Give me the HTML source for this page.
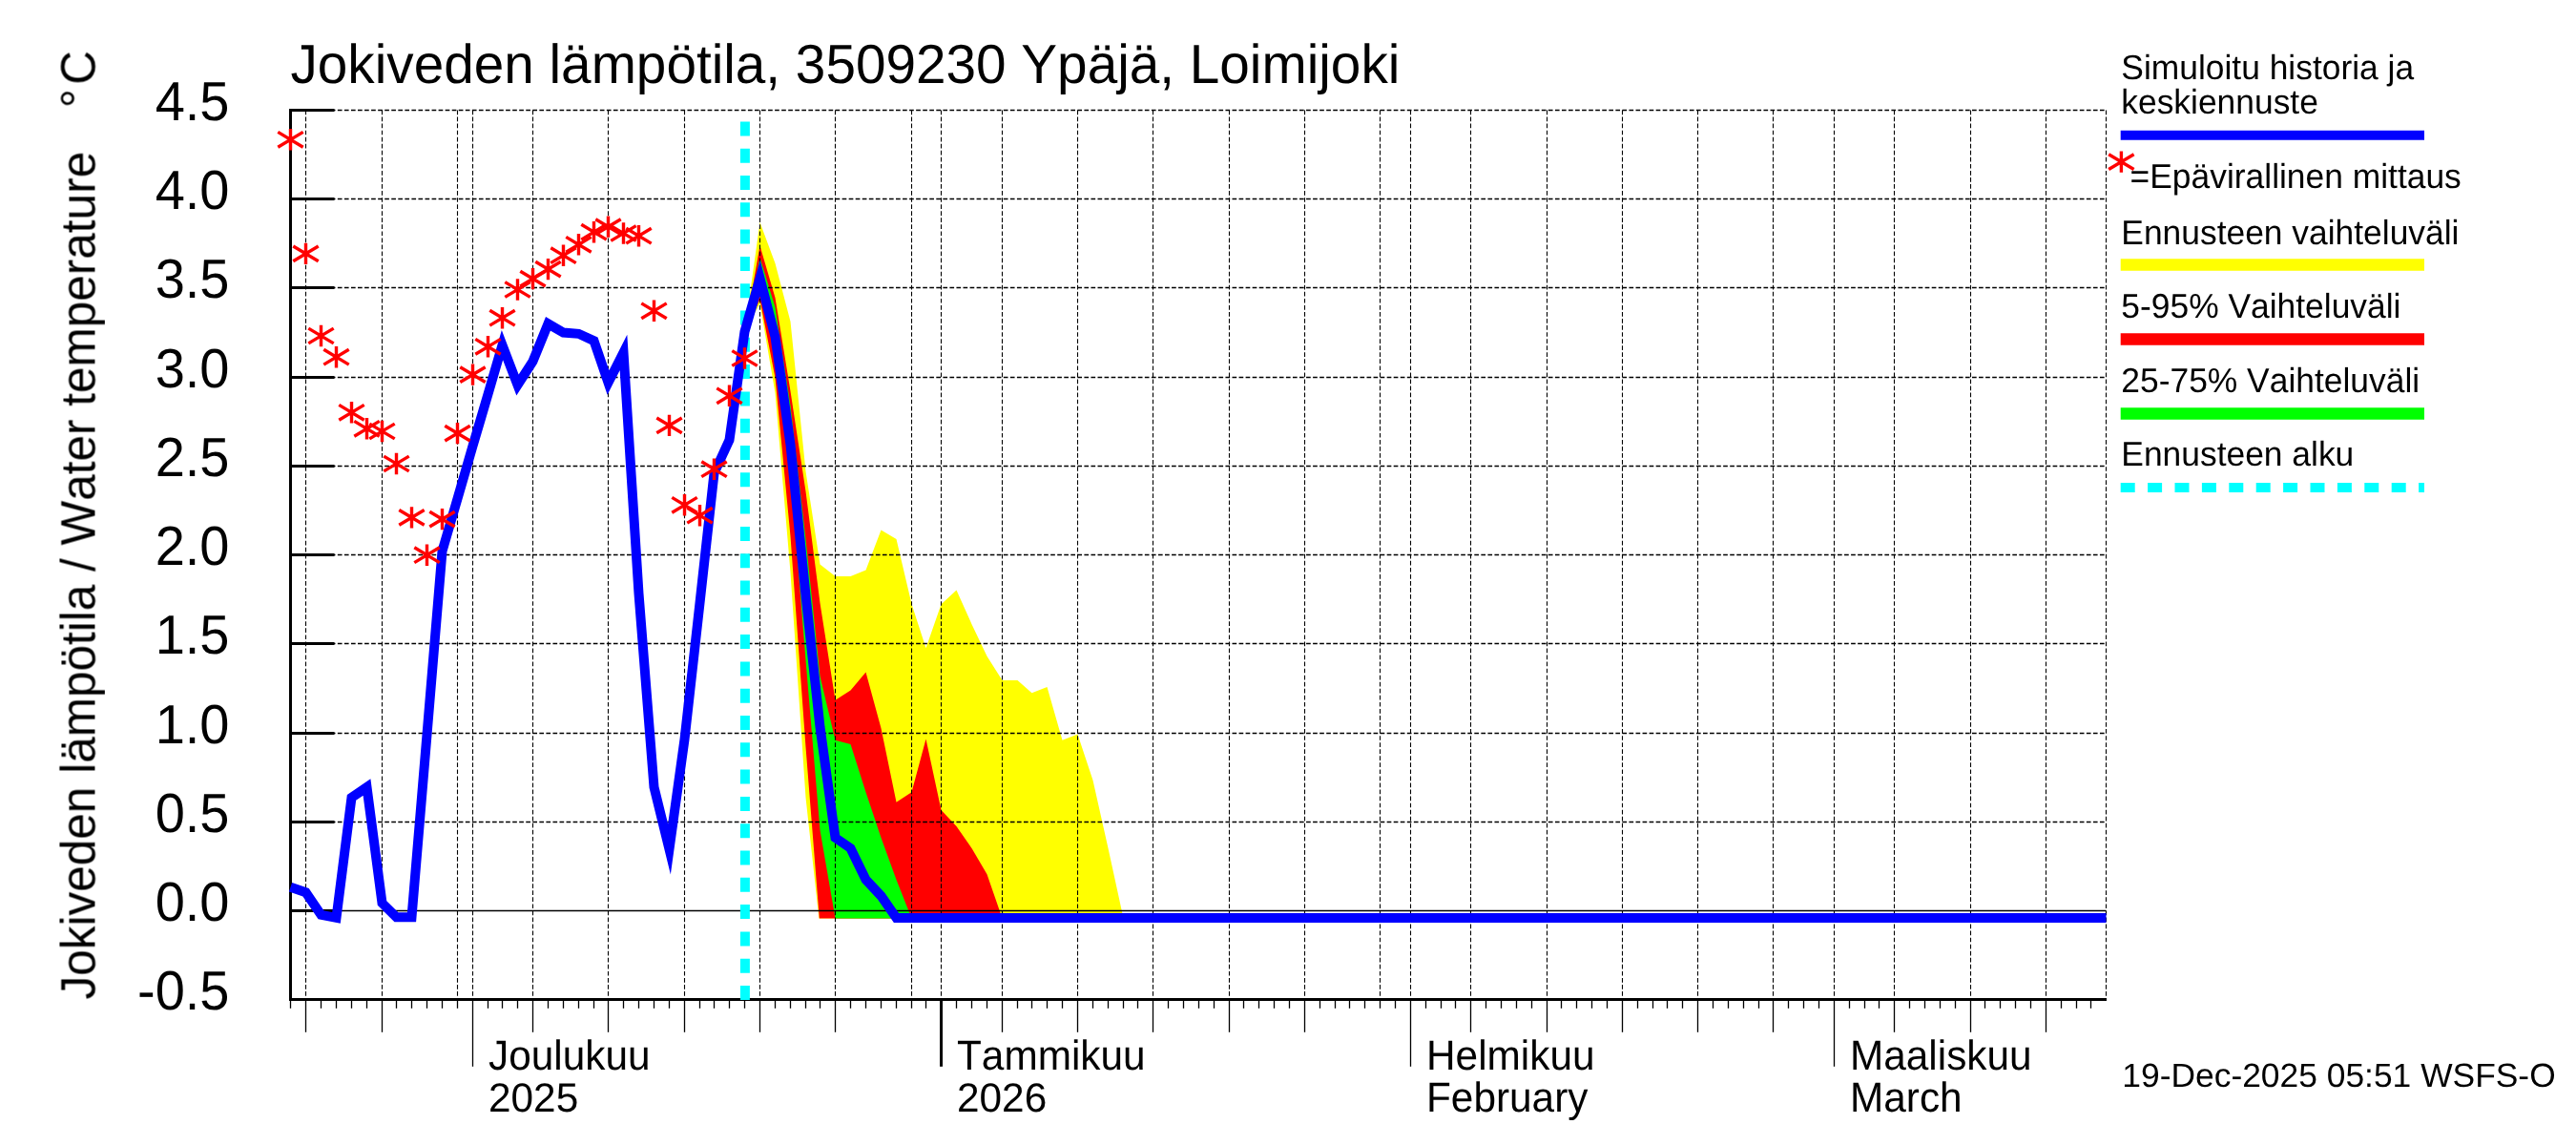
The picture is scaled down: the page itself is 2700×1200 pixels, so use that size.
<!DOCTYPE html>
<html lang="fi"><head><meta charset="utf-8"><title>Jokiveden lämpötila, 3509230 Ypäjä, Loimijoki</title>
<style>html,body{margin:0;padding:0;background:#fff;overflow:hidden}svg{display:block}text{white-space:pre;font-kerning:none;text-rendering:geometricPrecision;fill:#000}</style></head>
<body>
<svg width="2700" height="1200" viewBox="0 0 2700 1200" font-family="'Liberation Sans', sans-serif">
<rect width="2700" height="1200" fill="#fff"/>
<polygon fill="#ffff00" points="780.5,347.5 796.5,233.0 812.5,276.0 828.5,337.0 844.5,494.0 859.5,591.5 875.5,604.0 891.5,604.0 907.5,597.5 923.5,555.5 939.5,565.0 955.5,633.0 970.5,679.3 986.5,633.2 1002.5,618.5 1018.5,654.2 1034.5,687.7 1050.5,712.9 1066.5,712.9 1081.5,726.3 1097.5,720.0 1113.5,775.8 1129.5,769.5 1145.5,817.7 1161.5,889.0 1177.5,962.4 858.4,962.4 844.5,836.0 828.5,600.0 812.5,412.0 796.5,318.0"/>
<polygon fill="#ff0000" points="780.5,347.5 796.5,257.5 812.5,312.0 828.5,410.0 844.5,515.0 859.5,632.0 875.5,733.8 891.5,723.4 907.5,704.5 923.5,763.2 939.5,840.8 955.5,830.3 970.5,774.5 986.5,849.1 1002.5,865.9 1018.5,889.0 1034.5,916.2 1050.5,962.4 858.8,962.4 844.5,783.0 828.5,562.0 812.5,396.0 796.5,314.0"/>
<polygon fill="#00ff00" points="780.5,347.5 796.5,270.0 812.5,322.0 828.5,425.0 844.5,565.0 859.5,708.7 875.5,775.8 891.5,780.0 907.5,830.3 923.5,878.0 939.5,922.0 955.5,962.4 875.5,962.4 859.5,870.0 844.5,692.0 828.5,495.0 812.5,362.0 796.5,300.0"/>
<line x1="304.5" y1="115.5" x2="2207.5" y2="115.5" stroke="#000" stroke-width="1.3" stroke-dasharray="4.7 2.35"/>
<line x1="304.5" y1="208.5" x2="2207.5" y2="208.5" stroke="#000" stroke-width="1.3" stroke-dasharray="4.7 2.35"/>
<line x1="304.5" y1="301.5" x2="2207.5" y2="301.5" stroke="#000" stroke-width="1.3" stroke-dasharray="4.7 2.35"/>
<line x1="304.5" y1="395.5" x2="2207.5" y2="395.5" stroke="#000" stroke-width="1.3" stroke-dasharray="4.7 2.35"/>
<line x1="304.5" y1="488.5" x2="2207.5" y2="488.5" stroke="#000" stroke-width="1.3" stroke-dasharray="4.7 2.35"/>
<line x1="304.5" y1="581.5" x2="2207.5" y2="581.5" stroke="#000" stroke-width="1.3" stroke-dasharray="4.7 2.35"/>
<line x1="304.5" y1="674.5" x2="2207.5" y2="674.5" stroke="#000" stroke-width="1.3" stroke-dasharray="4.7 2.35"/>
<line x1="304.5" y1="768.5" x2="2207.5" y2="768.5" stroke="#000" stroke-width="1.3" stroke-dasharray="4.7 2.35"/>
<line x1="304.5" y1="861.5" x2="2207.5" y2="861.5" stroke="#000" stroke-width="1.3" stroke-dasharray="4.7 2.35"/>
<line x1="304.5" y1="954.5" x2="2207.5" y2="954.5" stroke="#000" stroke-width="1.3"/>
<line x1="320.5" y1="115.5" x2="320.5" y2="1047.5" stroke="#000" stroke-width="1.1" stroke-dasharray="4.7 2.35"/>
<line x1="400.5" y1="115.5" x2="400.5" y2="1047.5" stroke="#000" stroke-width="1.1" stroke-dasharray="4.7 2.35"/>
<line x1="479.5" y1="115.5" x2="479.5" y2="1047.5" stroke="#000" stroke-width="1.1" stroke-dasharray="4.7 2.35"/>
<line x1="495.5" y1="115.5" x2="495.5" y2="1047.5" stroke="#000" stroke-width="1.1" stroke-dasharray="4.7 2.35"/>
<line x1="558.5" y1="115.5" x2="558.5" y2="1047.5" stroke="#000" stroke-width="1.1" stroke-dasharray="4.7 2.35"/>
<line x1="637.5" y1="115.5" x2="637.5" y2="1047.5" stroke="#000" stroke-width="1.1" stroke-dasharray="4.7 2.35"/>
<line x1="717.5" y1="115.5" x2="717.5" y2="1047.5" stroke="#000" stroke-width="1.1" stroke-dasharray="4.7 2.35"/>
<line x1="796.5" y1="115.5" x2="796.5" y2="1047.5" stroke="#000" stroke-width="1.1" stroke-dasharray="4.7 2.35"/>
<line x1="875.5" y1="115.5" x2="875.5" y2="1047.5" stroke="#000" stroke-width="1.1" stroke-dasharray="4.7 2.35"/>
<line x1="955.5" y1="115.5" x2="955.5" y2="1047.5" stroke="#000" stroke-width="1.1" stroke-dasharray="4.7 2.35"/>
<line x1="986.5" y1="115.5" x2="986.5" y2="1047.5" stroke="#000" stroke-width="1.1" stroke-dasharray="4.7 2.35"/>
<line x1="1050.5" y1="115.5" x2="1050.5" y2="1047.5" stroke="#000" stroke-width="1.1" stroke-dasharray="4.7 2.35"/>
<line x1="1129.5" y1="115.5" x2="1129.5" y2="1047.5" stroke="#000" stroke-width="1.1" stroke-dasharray="4.7 2.35"/>
<line x1="1208.5" y1="115.5" x2="1208.5" y2="1047.5" stroke="#000" stroke-width="1.1" stroke-dasharray="4.7 2.35"/>
<line x1="1288.5" y1="115.5" x2="1288.5" y2="1047.5" stroke="#000" stroke-width="1.1" stroke-dasharray="4.7 2.35"/>
<line x1="1367.5" y1="115.5" x2="1367.5" y2="1047.5" stroke="#000" stroke-width="1.1" stroke-dasharray="4.7 2.35"/>
<line x1="1446.5" y1="115.5" x2="1446.5" y2="1047.5" stroke="#000" stroke-width="1.1" stroke-dasharray="4.7 2.35"/>
<line x1="1478.5" y1="115.5" x2="1478.5" y2="1047.5" stroke="#000" stroke-width="1.1" stroke-dasharray="4.7 2.35"/>
<line x1="1541.5" y1="115.5" x2="1541.5" y2="1047.5" stroke="#000" stroke-width="1.1" stroke-dasharray="4.7 2.35"/>
<line x1="1621.5" y1="115.5" x2="1621.5" y2="1047.5" stroke="#000" stroke-width="1.1" stroke-dasharray="4.7 2.35"/>
<line x1="1700.5" y1="115.5" x2="1700.5" y2="1047.5" stroke="#000" stroke-width="1.1" stroke-dasharray="4.7 2.35"/>
<line x1="1779.5" y1="115.5" x2="1779.5" y2="1047.5" stroke="#000" stroke-width="1.1" stroke-dasharray="4.7 2.35"/>
<line x1="1858.5" y1="115.5" x2="1858.5" y2="1047.5" stroke="#000" stroke-width="1.1" stroke-dasharray="4.7 2.35"/>
<line x1="1922.5" y1="115.5" x2="1922.5" y2="1047.5" stroke="#000" stroke-width="1.1" stroke-dasharray="4.7 2.35"/>
<line x1="1985.5" y1="115.5" x2="1985.5" y2="1047.5" stroke="#000" stroke-width="1.1" stroke-dasharray="4.7 2.35"/>
<line x1="2065.5" y1="115.5" x2="2065.5" y2="1047.5" stroke="#000" stroke-width="1.1" stroke-dasharray="4.7 2.35"/>
<line x1="2144.5" y1="115.5" x2="2144.5" y2="1047.5" stroke="#000" stroke-width="1.1" stroke-dasharray="4.7 2.35"/>
<line x1="2207.5" y1="115.5" x2="2207.5" y2="1047.5" stroke="#000" stroke-width="1.1" stroke-dasharray="4.7 2.35"/>
<line x1="304.5" y1="114.0" x2="304.5" y2="1049.0" stroke="#000" stroke-width="3"/>
<line x1="303.0" y1="1047.5" x2="2208.0" y2="1047.5" stroke="#000" stroke-width="3"/>
<line x1="304.5" y1="115.5" x2="350.5" y2="115.5" stroke="#000" stroke-width="3"/>
<line x1="304.5" y1="208.5" x2="350.5" y2="208.5" stroke="#000" stroke-width="3"/>
<line x1="304.5" y1="301.5" x2="350.5" y2="301.5" stroke="#000" stroke-width="3"/>
<line x1="304.5" y1="395.5" x2="350.5" y2="395.5" stroke="#000" stroke-width="3"/>
<line x1="304.5" y1="488.5" x2="350.5" y2="488.5" stroke="#000" stroke-width="3"/>
<line x1="304.5" y1="581.5" x2="350.5" y2="581.5" stroke="#000" stroke-width="3"/>
<line x1="304.5" y1="674.5" x2="350.5" y2="674.5" stroke="#000" stroke-width="3"/>
<line x1="304.5" y1="768.5" x2="350.5" y2="768.5" stroke="#000" stroke-width="3"/>
<line x1="304.5" y1="861.5" x2="350.5" y2="861.5" stroke="#000" stroke-width="3"/>
<line x1="304.5" y1="954.5" x2="350.5" y2="954.5" stroke="#000" stroke-width="3"/>
<line x1="304.5" y1="1047.5" x2="304.5" y2="1056.8" stroke="#000" stroke-width="1.3"/>
<line x1="320.5" y1="1047.5" x2="320.5" y2="1081.8" stroke="#000" stroke-width="1.3"/>
<line x1="336.5" y1="1047.5" x2="336.5" y2="1056.8" stroke="#000" stroke-width="1.3"/>
<line x1="352.5" y1="1047.5" x2="352.5" y2="1056.8" stroke="#000" stroke-width="1.3"/>
<line x1="368.5" y1="1047.5" x2="368.5" y2="1056.8" stroke="#000" stroke-width="1.3"/>
<line x1="384.5" y1="1047.5" x2="384.5" y2="1056.8" stroke="#000" stroke-width="1.3"/>
<line x1="400.5" y1="1047.5" x2="400.5" y2="1081.8" stroke="#000" stroke-width="1.3"/>
<line x1="415.5" y1="1047.5" x2="415.5" y2="1056.8" stroke="#000" stroke-width="1.3"/>
<line x1="431.5" y1="1047.5" x2="431.5" y2="1056.8" stroke="#000" stroke-width="1.3"/>
<line x1="447.5" y1="1047.5" x2="447.5" y2="1056.8" stroke="#000" stroke-width="1.3"/>
<line x1="463.5" y1="1047.5" x2="463.5" y2="1056.8" stroke="#000" stroke-width="1.3"/>
<line x1="479.5" y1="1047.5" x2="479.5" y2="1056.8" stroke="#000" stroke-width="1.3"/>
<line x1="495.5" y1="1047.5" x2="495.5" y2="1117.8" stroke="#000" stroke-width="1.3"/>
<line x1="511.5" y1="1047.5" x2="511.5" y2="1056.8" stroke="#000" stroke-width="1.3"/>
<line x1="526.5" y1="1047.5" x2="526.5" y2="1056.8" stroke="#000" stroke-width="1.3"/>
<line x1="542.5" y1="1047.5" x2="542.5" y2="1056.8" stroke="#000" stroke-width="1.3"/>
<line x1="558.5" y1="1047.5" x2="558.5" y2="1081.8" stroke="#000" stroke-width="1.3"/>
<line x1="574.5" y1="1047.5" x2="574.5" y2="1056.8" stroke="#000" stroke-width="1.3"/>
<line x1="590.5" y1="1047.5" x2="590.5" y2="1056.8" stroke="#000" stroke-width="1.3"/>
<line x1="606.5" y1="1047.5" x2="606.5" y2="1056.8" stroke="#000" stroke-width="1.3"/>
<line x1="622.5" y1="1047.5" x2="622.5" y2="1056.8" stroke="#000" stroke-width="1.3"/>
<line x1="637.5" y1="1047.5" x2="637.5" y2="1081.8" stroke="#000" stroke-width="1.3"/>
<line x1="653.5" y1="1047.5" x2="653.5" y2="1056.8" stroke="#000" stroke-width="1.3"/>
<line x1="669.5" y1="1047.5" x2="669.5" y2="1056.8" stroke="#000" stroke-width="1.3"/>
<line x1="685.5" y1="1047.5" x2="685.5" y2="1056.8" stroke="#000" stroke-width="1.3"/>
<line x1="701.5" y1="1047.5" x2="701.5" y2="1056.8" stroke="#000" stroke-width="1.3"/>
<line x1="717.5" y1="1047.5" x2="717.5" y2="1081.8" stroke="#000" stroke-width="1.3"/>
<line x1="733.5" y1="1047.5" x2="733.5" y2="1056.8" stroke="#000" stroke-width="1.3"/>
<line x1="748.5" y1="1047.5" x2="748.5" y2="1056.8" stroke="#000" stroke-width="1.3"/>
<line x1="764.5" y1="1047.5" x2="764.5" y2="1056.8" stroke="#000" stroke-width="1.3"/>
<line x1="780.5" y1="1047.5" x2="780.5" y2="1056.8" stroke="#000" stroke-width="1.3"/>
<line x1="796.5" y1="1047.5" x2="796.5" y2="1081.8" stroke="#000" stroke-width="1.3"/>
<line x1="812.5" y1="1047.5" x2="812.5" y2="1056.8" stroke="#000" stroke-width="1.3"/>
<line x1="828.5" y1="1047.5" x2="828.5" y2="1056.8" stroke="#000" stroke-width="1.3"/>
<line x1="844.5" y1="1047.5" x2="844.5" y2="1056.8" stroke="#000" stroke-width="1.3"/>
<line x1="859.5" y1="1047.5" x2="859.5" y2="1056.8" stroke="#000" stroke-width="1.3"/>
<line x1="875.5" y1="1047.5" x2="875.5" y2="1081.8" stroke="#000" stroke-width="1.3"/>
<line x1="891.5" y1="1047.5" x2="891.5" y2="1056.8" stroke="#000" stroke-width="1.3"/>
<line x1="907.5" y1="1047.5" x2="907.5" y2="1056.8" stroke="#000" stroke-width="1.3"/>
<line x1="923.5" y1="1047.5" x2="923.5" y2="1056.8" stroke="#000" stroke-width="1.3"/>
<line x1="939.5" y1="1047.5" x2="939.5" y2="1056.8" stroke="#000" stroke-width="1.3"/>
<line x1="955.5" y1="1047.5" x2="955.5" y2="1056.8" stroke="#000" stroke-width="1.3"/>
<line x1="970.5" y1="1047.5" x2="970.5" y2="1056.8" stroke="#000" stroke-width="1.3"/>
<line x1="986.5" y1="1047.5" x2="986.5" y2="1117.8" stroke="#000" stroke-width="3"/>
<line x1="1002.5" y1="1047.5" x2="1002.5" y2="1056.8" stroke="#000" stroke-width="1.3"/>
<line x1="1018.5" y1="1047.5" x2="1018.5" y2="1056.8" stroke="#000" stroke-width="1.3"/>
<line x1="1034.5" y1="1047.5" x2="1034.5" y2="1056.8" stroke="#000" stroke-width="1.3"/>
<line x1="1050.5" y1="1047.5" x2="1050.5" y2="1081.8" stroke="#000" stroke-width="1.3"/>
<line x1="1066.5" y1="1047.5" x2="1066.5" y2="1056.8" stroke="#000" stroke-width="1.3"/>
<line x1="1081.5" y1="1047.5" x2="1081.5" y2="1056.8" stroke="#000" stroke-width="1.3"/>
<line x1="1097.5" y1="1047.5" x2="1097.5" y2="1056.8" stroke="#000" stroke-width="1.3"/>
<line x1="1113.5" y1="1047.5" x2="1113.5" y2="1056.8" stroke="#000" stroke-width="1.3"/>
<line x1="1129.5" y1="1047.5" x2="1129.5" y2="1081.8" stroke="#000" stroke-width="1.3"/>
<line x1="1145.5" y1="1047.5" x2="1145.5" y2="1056.8" stroke="#000" stroke-width="1.3"/>
<line x1="1161.5" y1="1047.5" x2="1161.5" y2="1056.8" stroke="#000" stroke-width="1.3"/>
<line x1="1177.5" y1="1047.5" x2="1177.5" y2="1056.8" stroke="#000" stroke-width="1.3"/>
<line x1="1192.5" y1="1047.5" x2="1192.5" y2="1056.8" stroke="#000" stroke-width="1.3"/>
<line x1="1208.5" y1="1047.5" x2="1208.5" y2="1081.8" stroke="#000" stroke-width="1.3"/>
<line x1="1224.5" y1="1047.5" x2="1224.5" y2="1056.8" stroke="#000" stroke-width="1.3"/>
<line x1="1240.5" y1="1047.5" x2="1240.5" y2="1056.8" stroke="#000" stroke-width="1.3"/>
<line x1="1256.5" y1="1047.5" x2="1256.5" y2="1056.8" stroke="#000" stroke-width="1.3"/>
<line x1="1272.5" y1="1047.5" x2="1272.5" y2="1056.8" stroke="#000" stroke-width="1.3"/>
<line x1="1288.5" y1="1047.5" x2="1288.5" y2="1081.8" stroke="#000" stroke-width="1.3"/>
<line x1="1303.5" y1="1047.5" x2="1303.5" y2="1056.8" stroke="#000" stroke-width="1.3"/>
<line x1="1319.5" y1="1047.5" x2="1319.5" y2="1056.8" stroke="#000" stroke-width="1.3"/>
<line x1="1335.5" y1="1047.5" x2="1335.5" y2="1056.8" stroke="#000" stroke-width="1.3"/>
<line x1="1351.5" y1="1047.5" x2="1351.5" y2="1056.8" stroke="#000" stroke-width="1.3"/>
<line x1="1367.5" y1="1047.5" x2="1367.5" y2="1081.8" stroke="#000" stroke-width="1.3"/>
<line x1="1383.5" y1="1047.5" x2="1383.5" y2="1056.8" stroke="#000" stroke-width="1.3"/>
<line x1="1399.5" y1="1047.5" x2="1399.5" y2="1056.8" stroke="#000" stroke-width="1.3"/>
<line x1="1414.5" y1="1047.5" x2="1414.5" y2="1056.8" stroke="#000" stroke-width="1.3"/>
<line x1="1430.5" y1="1047.5" x2="1430.5" y2="1056.8" stroke="#000" stroke-width="1.3"/>
<line x1="1446.5" y1="1047.5" x2="1446.5" y2="1056.8" stroke="#000" stroke-width="1.3"/>
<line x1="1462.5" y1="1047.5" x2="1462.5" y2="1056.8" stroke="#000" stroke-width="1.3"/>
<line x1="1478.5" y1="1047.5" x2="1478.5" y2="1117.8" stroke="#000" stroke-width="1.3"/>
<line x1="1494.5" y1="1047.5" x2="1494.5" y2="1056.8" stroke="#000" stroke-width="1.3"/>
<line x1="1510.5" y1="1047.5" x2="1510.5" y2="1056.8" stroke="#000" stroke-width="1.3"/>
<line x1="1525.5" y1="1047.5" x2="1525.5" y2="1056.8" stroke="#000" stroke-width="1.3"/>
<line x1="1541.5" y1="1047.5" x2="1541.5" y2="1081.8" stroke="#000" stroke-width="1.3"/>
<line x1="1557.5" y1="1047.5" x2="1557.5" y2="1056.8" stroke="#000" stroke-width="1.3"/>
<line x1="1573.5" y1="1047.5" x2="1573.5" y2="1056.8" stroke="#000" stroke-width="1.3"/>
<line x1="1589.5" y1="1047.5" x2="1589.5" y2="1056.8" stroke="#000" stroke-width="1.3"/>
<line x1="1605.5" y1="1047.5" x2="1605.5" y2="1056.8" stroke="#000" stroke-width="1.3"/>
<line x1="1621.5" y1="1047.5" x2="1621.5" y2="1081.8" stroke="#000" stroke-width="1.3"/>
<line x1="1636.5" y1="1047.5" x2="1636.5" y2="1056.8" stroke="#000" stroke-width="1.3"/>
<line x1="1652.5" y1="1047.5" x2="1652.5" y2="1056.8" stroke="#000" stroke-width="1.3"/>
<line x1="1668.5" y1="1047.5" x2="1668.5" y2="1056.8" stroke="#000" stroke-width="1.3"/>
<line x1="1684.5" y1="1047.5" x2="1684.5" y2="1056.8" stroke="#000" stroke-width="1.3"/>
<line x1="1700.5" y1="1047.5" x2="1700.5" y2="1081.8" stroke="#000" stroke-width="1.3"/>
<line x1="1716.5" y1="1047.5" x2="1716.5" y2="1056.8" stroke="#000" stroke-width="1.3"/>
<line x1="1732.5" y1="1047.5" x2="1732.5" y2="1056.8" stroke="#000" stroke-width="1.3"/>
<line x1="1747.5" y1="1047.5" x2="1747.5" y2="1056.8" stroke="#000" stroke-width="1.3"/>
<line x1="1763.5" y1="1047.5" x2="1763.5" y2="1056.8" stroke="#000" stroke-width="1.3"/>
<line x1="1779.5" y1="1047.5" x2="1779.5" y2="1081.8" stroke="#000" stroke-width="1.3"/>
<line x1="1795.5" y1="1047.5" x2="1795.5" y2="1056.8" stroke="#000" stroke-width="1.3"/>
<line x1="1811.5" y1="1047.5" x2="1811.5" y2="1056.8" stroke="#000" stroke-width="1.3"/>
<line x1="1827.5" y1="1047.5" x2="1827.5" y2="1056.8" stroke="#000" stroke-width="1.3"/>
<line x1="1843.5" y1="1047.5" x2="1843.5" y2="1056.8" stroke="#000" stroke-width="1.3"/>
<line x1="1858.5" y1="1047.5" x2="1858.5" y2="1081.8" stroke="#000" stroke-width="1.3"/>
<line x1="1874.5" y1="1047.5" x2="1874.5" y2="1056.8" stroke="#000" stroke-width="1.3"/>
<line x1="1890.5" y1="1047.5" x2="1890.5" y2="1056.8" stroke="#000" stroke-width="1.3"/>
<line x1="1906.5" y1="1047.5" x2="1906.5" y2="1056.8" stroke="#000" stroke-width="1.3"/>
<line x1="1922.5" y1="1047.5" x2="1922.5" y2="1117.8" stroke="#000" stroke-width="1.3"/>
<line x1="1938.5" y1="1047.5" x2="1938.5" y2="1056.8" stroke="#000" stroke-width="1.3"/>
<line x1="1954.5" y1="1047.5" x2="1954.5" y2="1056.8" stroke="#000" stroke-width="1.3"/>
<line x1="1969.5" y1="1047.5" x2="1969.5" y2="1056.8" stroke="#000" stroke-width="1.3"/>
<line x1="1985.5" y1="1047.5" x2="1985.5" y2="1081.8" stroke="#000" stroke-width="1.3"/>
<line x1="2001.5" y1="1047.5" x2="2001.5" y2="1056.8" stroke="#000" stroke-width="1.3"/>
<line x1="2017.5" y1="1047.5" x2="2017.5" y2="1056.8" stroke="#000" stroke-width="1.3"/>
<line x1="2033.5" y1="1047.5" x2="2033.5" y2="1056.8" stroke="#000" stroke-width="1.3"/>
<line x1="2049.5" y1="1047.5" x2="2049.5" y2="1056.8" stroke="#000" stroke-width="1.3"/>
<line x1="2065.5" y1="1047.5" x2="2065.5" y2="1081.8" stroke="#000" stroke-width="1.3"/>
<line x1="2080.5" y1="1047.5" x2="2080.5" y2="1056.8" stroke="#000" stroke-width="1.3"/>
<line x1="2096.5" y1="1047.5" x2="2096.5" y2="1056.8" stroke="#000" stroke-width="1.3"/>
<line x1="2112.5" y1="1047.5" x2="2112.5" y2="1056.8" stroke="#000" stroke-width="1.3"/>
<line x1="2128.5" y1="1047.5" x2="2128.5" y2="1056.8" stroke="#000" stroke-width="1.3"/>
<line x1="2144.5" y1="1047.5" x2="2144.5" y2="1081.8" stroke="#000" stroke-width="1.3"/>
<line x1="2160.5" y1="1047.5" x2="2160.5" y2="1056.8" stroke="#000" stroke-width="1.3"/>
<line x1="2176.5" y1="1047.5" x2="2176.5" y2="1056.8" stroke="#000" stroke-width="1.3"/>
<line x1="2191.5" y1="1047.5" x2="2191.5" y2="1056.8" stroke="#000" stroke-width="1.3"/>
<line x1="780.9" y1="1048" x2="780.9" y2="115.5" stroke="#00ffff" stroke-width="10" stroke-dasharray="15 13.3"/>
<polyline fill="none" stroke="#0000ff" stroke-width="10" stroke-linejoin="miter" stroke-miterlimit="10" points="304.5,929.7 320.5,935.2 336.5,958.8 352.5,961.8 368.5,835.9 384.5,825.0 400.5,946.5 415.5,961.2 431.5,961.2 447.5,770.0 463.5,577.7 479.5,522.7 495.5,467.4 511.5,413.2 526.5,361.6 542.5,403.5 558.5,378.6 574.5,339.3 590.5,348.5 606.5,349.8 622.5,357.1 637.5,400.9 653.5,369.4 669.5,622.0 685.5,825.0 701.5,890.0 717.5,775.0 733.5,632.0 748.5,496.0 764.5,461.0 780.5,347.5 796.5,291.6 812.5,353.0 828.5,466.0 844.5,624.0 859.5,762.0 875.5,878.0 891.5,889.0 907.5,922.0 923.5,939.0 939.5,962.0 2207.5,962.0"/>
<path d="M304.5,135.1V157.5M291.3,138.4L317.7,154.2M291.3,154.2L317.7,138.4" stroke="#ff0000" stroke-width="3.4" fill="none"/>
<path d="M320.5,254.7V277.1M307.3,258.0L333.7,273.8M307.3,273.8L333.7,258.0" stroke="#ff0000" stroke-width="3.4" fill="none"/>
<path d="M336.5,340.8V363.2M323.3,344.1L349.7,359.9M323.3,359.9L349.7,344.1" stroke="#ff0000" stroke-width="3.4" fill="none"/>
<path d="M352.5,363.0V385.4M339.3,366.3L365.7,382.1M339.3,382.1L365.7,366.3" stroke="#ff0000" stroke-width="3.4" fill="none"/>
<path d="M368.5,421.1V443.5M355.3,424.4L381.7,440.2M355.3,440.2L381.7,424.4" stroke="#ff0000" stroke-width="3.4" fill="none"/>
<path d="M384.5,438.1V460.5M371.3,441.4L397.7,457.2M371.3,457.2L397.7,441.4" stroke="#ff0000" stroke-width="3.4" fill="none"/>
<path d="M400.5,440.8V463.2M387.3,444.1L413.7,459.9M387.3,459.9L413.7,444.1" stroke="#ff0000" stroke-width="3.4" fill="none"/>
<path d="M415.5,474.8V497.2M402.3,478.1L428.7,493.9M402.3,493.9L428.7,478.1" stroke="#ff0000" stroke-width="3.4" fill="none"/>
<path d="M431.5,531.2V553.6M418.3,534.5L444.7,550.3M418.3,550.3L444.7,534.5" stroke="#ff0000" stroke-width="3.4" fill="none"/>
<path d="M447.5,570.5V592.9M434.3,573.8L460.7,589.6M434.3,589.6L460.7,573.8" stroke="#ff0000" stroke-width="3.4" fill="none"/>
<path d="M463.5,532.9V555.3M450.3,536.2L476.7,552.0M450.3,552.0L476.7,536.2" stroke="#ff0000" stroke-width="3.4" fill="none"/>
<path d="M479.5,442.9V465.3M466.3,446.2L492.7,462.0M466.3,462.0L492.7,446.2" stroke="#ff0000" stroke-width="3.4" fill="none"/>
<path d="M495.5,381.4V403.8M482.3,384.7L508.7,400.5M482.3,400.5L508.7,384.7" stroke="#ff0000" stroke-width="3.4" fill="none"/>
<path d="M511.5,352.1V374.5M498.3,355.4L524.7,371.2M498.3,371.2L524.7,355.4" stroke="#ff0000" stroke-width="3.4" fill="none"/>
<path d="M526.5,322.0V344.4M513.3,325.3L539.7,341.1M513.3,341.1L539.7,325.3" stroke="#ff0000" stroke-width="3.4" fill="none"/>
<path d="M542.5,292.3V314.7M529.3,295.6L555.7,311.4M529.3,311.4L555.7,295.6" stroke="#ff0000" stroke-width="3.4" fill="none"/>
<path d="M558.5,280.9V303.3M545.3,284.2L571.7,300.0M545.3,300.0L571.7,284.2" stroke="#ff0000" stroke-width="3.4" fill="none"/>
<path d="M574.5,270.9V293.3M561.3,274.2L587.7,290.0M561.3,290.0L587.7,274.2" stroke="#ff0000" stroke-width="3.4" fill="none"/>
<path d="M590.5,256.5V278.9M577.3,259.8L603.7,275.6M577.3,275.6L603.7,259.8" stroke="#ff0000" stroke-width="3.4" fill="none"/>
<path d="M606.5,245.1V267.5M593.3,248.4L619.7,264.2M593.3,264.2L619.7,248.4" stroke="#ff0000" stroke-width="3.4" fill="none"/>
<path d="M622.5,232.0V254.4M609.3,235.3L635.7,251.1M609.3,251.1L635.7,235.3" stroke="#ff0000" stroke-width="3.4" fill="none"/>
<path d="M637.5,226.4V248.8M624.3,229.7L650.7,245.5M624.3,245.5L650.7,229.7" stroke="#ff0000" stroke-width="3.4" fill="none"/>
<path d="M653.5,233.3V255.7M640.3,236.6L666.7,252.4M640.3,252.4L666.7,236.6" stroke="#ff0000" stroke-width="3.4" fill="none"/>
<path d="M669.5,236.0V258.4M656.3,239.3L682.7,255.1M656.3,255.1L682.7,239.3" stroke="#ff0000" stroke-width="3.4" fill="none"/>
<path d="M685.5,314.6V337.0M672.3,317.9L698.7,333.7M672.3,333.7L698.7,317.9" stroke="#ff0000" stroke-width="3.4" fill="none"/>
<path d="M701.5,434.7V457.1M688.3,438.0L714.7,453.8M688.3,453.8L714.7,438.0" stroke="#ff0000" stroke-width="3.4" fill="none"/>
<path d="M717.5,518.1V540.5M704.3,521.4L730.7,537.2M704.3,537.2L730.7,521.4" stroke="#ff0000" stroke-width="3.4" fill="none"/>
<path d="M733.5,529.0V551.4M720.3,532.3L746.7,548.1M720.3,548.1L746.7,532.3" stroke="#ff0000" stroke-width="3.4" fill="none"/>
<path d="M748.5,480.5V502.9M735.3,483.8L761.7,499.6M735.3,499.6L761.7,483.8" stroke="#ff0000" stroke-width="3.4" fill="none"/>
<path d="M764.5,403.6V426.0M751.3,406.9L777.7,422.7M751.3,422.7L777.7,406.9" stroke="#ff0000" stroke-width="3.4" fill="none"/>
<path d="M780.5,364.3V386.7M767.3,367.6L793.7,383.4M767.3,383.4L793.7,367.6" stroke="#ff0000" stroke-width="3.4" fill="none"/>
<g style="will-change:opacity" opacity="0.999">
<text transform="translate(304.5 87.0) scale(1 1.02)" font-size="56.7" xml:space="preserve">Jokiveden lämpötila, 3509230 Ypäjä, Loimijoki</text>
<text transform="translate(99.0 1047.5) rotate(-90) scale(1 1.035)" font-size="49.5" xml:space="preserve">Jokiveden lämpötila / Water temperature   <tspan dx="4.6">°</tspan><tspan dx="4.4">C</tspan></text>
<text transform="translate(240.5 126.3) scale(1 1.035)" font-size="56" text-anchor="end" xml:space="preserve">4.5</text>
<text transform="translate(240.5 219.3) scale(1 1.035)" font-size="56" text-anchor="end" xml:space="preserve">4.0</text>
<text transform="translate(240.5 312.3) scale(1 1.035)" font-size="56" text-anchor="end" xml:space="preserve">3.5</text>
<text transform="translate(240.5 406.3) scale(1 1.035)" font-size="56" text-anchor="end" xml:space="preserve">3.0</text>
<text transform="translate(240.5 499.3) scale(1 1.035)" font-size="56" text-anchor="end" xml:space="preserve">2.5</text>
<text transform="translate(240.5 592.3) scale(1 1.035)" font-size="56" text-anchor="end" xml:space="preserve">2.0</text>
<text transform="translate(240.5 685.3) scale(1 1.035)" font-size="56" text-anchor="end" xml:space="preserve">1.5</text>
<text transform="translate(240.5 779.3) scale(1 1.035)" font-size="56" text-anchor="end" xml:space="preserve">1.0</text>
<text transform="translate(240.5 872.3) scale(1 1.035)" font-size="56" text-anchor="end" xml:space="preserve">0.5</text>
<text transform="translate(240.5 965.3) scale(1 1.035)" font-size="56" text-anchor="end" xml:space="preserve">0.0</text>
<text transform="translate(240.5 1058.3) scale(1 1.035)" font-size="56" text-anchor="end" xml:space="preserve">-0.5</text>
<text transform="translate(512.0 1121.2) scale(1 1.035)" font-size="42.35" xml:space="preserve">Joulukuu</text>
<text transform="translate(512.0 1164.9) scale(1 1.01)" font-size="42.35" xml:space="preserve">2025</text>
<text transform="translate(1003.0 1121.2) scale(1 1.035)" font-size="42.35" xml:space="preserve">Tammikuu</text>
<text transform="translate(1003.0 1164.9) scale(1 1.01)" font-size="42.35" xml:space="preserve">2026</text>
<text transform="translate(1495.0 1121.2) scale(1 1.035)" font-size="42.35" xml:space="preserve">Helmikuu</text>
<text transform="translate(1495.0 1164.9) scale(1 1.035)" font-size="42.35" xml:space="preserve">February</text>
<text transform="translate(1939.0 1121.2) scale(1 1.035)" font-size="42.35" xml:space="preserve">Maaliskuu</text>
<text transform="translate(1939.0 1164.9) scale(1 1.035)" font-size="42.35" xml:space="preserve">March</text>
<text transform="translate(2223.3 83.4) scale(1 1.02)" font-size="35.4" xml:space="preserve">Simuloitu historia ja</text>
<text transform="translate(2223.3 118.6) scale(1 1.02)" font-size="35.4" xml:space="preserve">keskiennuste</text>
<line x1="2222.7" y1="141.8" x2="2541" y2="141.8" stroke="#0000ff" stroke-width="10"/>
<path d="M2223.4,158.4V180.8M2210.2,161.7L2236.6,177.5M2210.2,177.5L2236.6,161.7" stroke="#ff0000" stroke-width="3.4" fill="none"/>
<text transform="translate(2232.6 196.9) scale(1 1.02)" font-size="35.4" xml:space="preserve">=Epävirallinen mittaus</text>
<text transform="translate(2223.3 255.5) scale(1 1.02)" font-size="35.4" xml:space="preserve">Ennusteen vaihteluväli</text>
<line x1="2222.7" y1="277.4" x2="2541" y2="277.4" stroke="#ffff00" stroke-width="12.5"/>
<text transform="translate(2223.3 332.7) scale(1 1.02)" font-size="35.4" xml:space="preserve">5-95% Vaihteluväli</text>
<line x1="2222.7" y1="355.5" x2="2541" y2="355.5" stroke="#ff0000" stroke-width="12.5"/>
<text transform="translate(2223.3 410.6) scale(1 1.02)" font-size="35.4" xml:space="preserve">25-75% Vaihteluväli</text>
<line x1="2222.7" y1="433.5" x2="2541" y2="433.5" stroke="#00ff00" stroke-width="12.5"/>
<text transform="translate(2223.3 488.2) scale(1 1.02)" font-size="35.4" xml:space="preserve">Ennusteen alku</text>
<line x1="2222.7" y1="511" x2="2541" y2="511" stroke="#00ffff" stroke-width="10" stroke-dasharray="15 13.4"/>
<text transform="translate(2224.3 1139.3) scale(1 0.99)" font-size="35.4" xml:space="preserve">19-Dec-2025 05:51 WSFS-O</text>
</g>
</svg>
</body></html>
